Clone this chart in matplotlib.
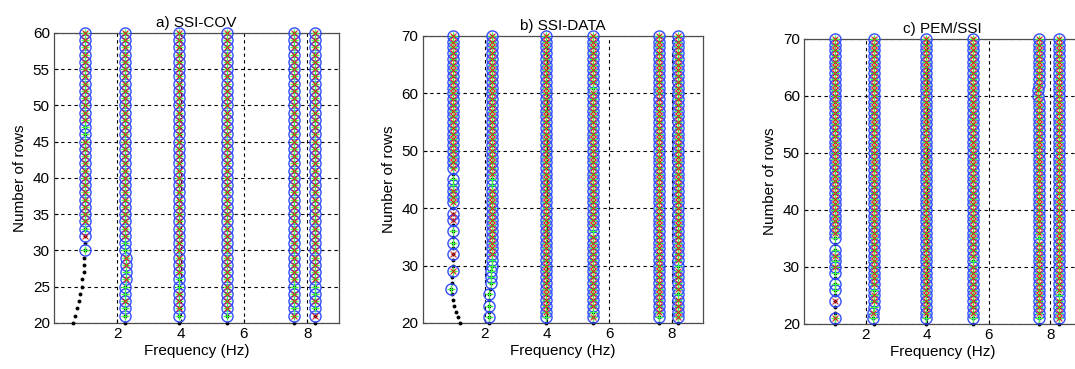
import matplotlib
matplotlib.use("Agg")
import matplotlib.pyplot as plt

plt.rcParams['font.family'] = ['Liberation Sans', 'DejaVu Sans']

# ---- data ----
# number of block rows (y axis) for each method
rows_cov = (20, 60)
rows_data = (20, 70)
rows_pem = (20, 70)

# natural frequencies (Hz) of the stable columns
freq_cov = [0.97, 2.23, 3.95, 5.47, 7.58, 8.25]
freq_data = [0.96, 2.24, 3.96, 5.47, 7.58, 8.22]
freq_pem = [1.02, 2.27, 3.95, 5.50, 7.62, 8.28]

# rows where a pole sits away from its column  {mode: {row: freq}}
shift_cov = {
    0: {20: 0.59, 21: 0.67, 22: 0.74, 23: 0.78, 24: 0.83, 25: 0.87,
        26: 0.90, 27: 0.94, 28: 0.95, 29: 0.96, 30: 0.98},
    1: {24: 2.25, 25: 2.25, 26: 2.26, 27: 2.27, 28: 2.27, 29: 2.26},
}
shift_data = {
    0: {20: 1.20, 21: 1.12, 22: 1.06, 23: 1.01, 24: 0.97, 25: 0.94,
        26: 0.92, 27: 0.94, 28: 0.95},
    1: {20: 2.12, 21: 2.12, 22: 2.12, 23: 2.13, 24: 2.13, 25: 2.13,
        26: 2.15, 27: 2.18, 28: 2.20, 29: 2.21, 30: 2.22},
}
shift_pem = {
    1: {21: 2.25, 22: 2.25, 23: 2.26},
    4: {60: 7.60, 61: 7.60},
}

# stability of each pole, default is 'f+x' (frequency + damping + mode shape)
# 'd' = pole only, 'f+' = freq & damping, 'fx' = freq & mode shape
flags_cov = {
    0: {20: 'd', 21: 'd', 22: 'd', 23: 'd', 24: 'd', 25: 'd', 26: 'd', 27: 'd',
        28: 'd', 29: 'd', 30: 'f+', 31: 'd', 32: 'fx', 33: 'f+', 46: 'f+', 47: 'f+'},
    1: {20: 'd', 21: 'f+', 22: 'f+', 24: 'f+', 25: 'f+', 27: 'f+', 30: 'f+', 31: 'f+'},
    2: {20: 'd', 21: 'f+', 25: 'f+', 26: 'f+'},
    3: {20: 'd', 21: 'f+'},
    4: {20: 'd', 22: 'f+', 25: 'f+'},
    5: {20: 'd', 21: 'fx', 22: 'f+', 24: 'f+', 25: 'f+'},
}
flags_data = {
    0: {20: 'd', 21: 'd', 22: 'd', 23: 'd', 24: 'd', 25: 'd', 26: 'f+', 27: 'd',
        28: 'd', 30: 'd', 31: 'd', 32: 'fx', 33: 'd', 34: 'f+', 35: 'd', 36: 'f+',
        37: 'd', 38: 'fx', 39: 'fx', 40: 'd', 44: 'f+', 45: 'f+', 46: 'd'},
    1: {20: 'd', 21: 'f+', 22: 'd', 23: 'f+', 24: 'd', 25: 'f+', 26: 'd', 27: 'f+',
        28: 'f+', 29: 'f+', 30: 'f+', 31: 'f+', 44: 'f+', 45: 'f+'},
    2: {20: 'd', 21: 'f+'},
    3: {20: 'd', 22: 'f+', 36: 'f+', 61: 'f+'},
    4: {20: 'd', 21: 'f+', 59: 'fx'},
    5: {20: 'd', 25: 'f+', 30: 'f+'},
}
flags_pem = {
    0: {20: 'd', 22: 'd', 23: 'd', 24: 'fx', 25: 'd', 26: 'f+', 27: 'f+', 28: 'd',
        29: 'f+', 31: 'f+', 33: 'f+', 34: 'd', 35: 'f+'},
    1: {20: 'd', 21: 'f+', 23: 'f+', 26: 'f+'},
    2: {20: 'd', 21: 'f+'},
    3: {20: 'd', 21: 'f+', 31: 'f+'},
    4: {20: 'd', 21: 'f+', 35: 'f+'},
    5: {20: 'd', 25: 'f+'},
}

titles = ['a) SSI-COV', 'b) SSI-DATA', 'c) PEM/SSI']
yticks_list = [range(20, 61, 5), range(20, 71, 10), range(20, 71, 10)]
positions = [[0.0502, 0.1247, 0.2651, 0.7859],
             [0.3932, 0.1247, 0.2605, 0.7778],
             [0.7479, 0.1220, 0.2577, 0.7724]]

panels = [(rows_cov, freq_cov, shift_cov, flags_cov),
          (rows_data, freq_data, shift_data, flags_data),
          (rows_pem, freq_pem, shift_pem, flags_pem)]

fig = plt.figure(figsize=(10.75, 3.69), dpi=100)

for k, (rr, freqs, shifts, flags) in enumerate(panels):
    ax = fig.add_axes(positions[k])
    dots, circ, plus, cross = [[], []], [[], []], [[], []], [[], []]
    for m, f0 in enumerate(freqs):
        for r in range(rr[0], rr[1] + 1):
            f = shifts.get(m, {}).get(r, f0)
            code = flags.get(m, {}).get(r, 'f+x')
            dots[0].append(f); dots[1].append(r)
            if 'f' in code:
                circ[0].append(f); circ[1].append(r)
            if '+' in code:
                plus[0].append(f); plus[1].append(r)
            if 'x' in code:
                cross[0].append(f); cross[1].append(r)
    ax.plot(dots[0], dots[1], 'o', color='k', ms=2.8, mew=0, clip_on=False, zorder=3)
    ax.plot(circ[0], circ[1], 'o', mfc='none', mec=(0.2, 0.3, 1.0), ms=8.0, mew=1.0,
            clip_on=False, zorder=4)
    ax.plot(plus[0], plus[1], '+', color=(0.25, 1.0, 0.25), ms=6.0, mew=0.9,
            clip_on=False, zorder=5)
    ax.plot(cross[0], cross[1], 'x', color=(0.9, 0.1, 0.1), ms=4.0, mew=0.7,
            clip_on=False, zorder=6)

    ax.set_xlim(0, 9)
    ax.set_ylim(rr[0], rr[1])
    ax.set_xticks([2, 4, 6, 8])
    ax.set_yticks(list(yticks_list[k]))
    ax.grid(True, color='k', linestyle=(0, (3, 3)), linewidth=0.8)
    ax.set_axisbelow(True)
    ax.tick_params(direction='in', length=3, labelsize=11, colors='k', pad=3)
    for s in ax.spines.values():
        s.set_color('0.3')
        s.set_linewidth(0.9)
    ax.set_title(titles[k], fontsize=11, pad=4)
    ax.set_xlabel('Frequency (Hz)', fontsize=11, labelpad=2)
    ax.set_ylabel('Number of rows', fontsize=11, labelpad=4)

fig.savefig('out.png', dpi=100)
